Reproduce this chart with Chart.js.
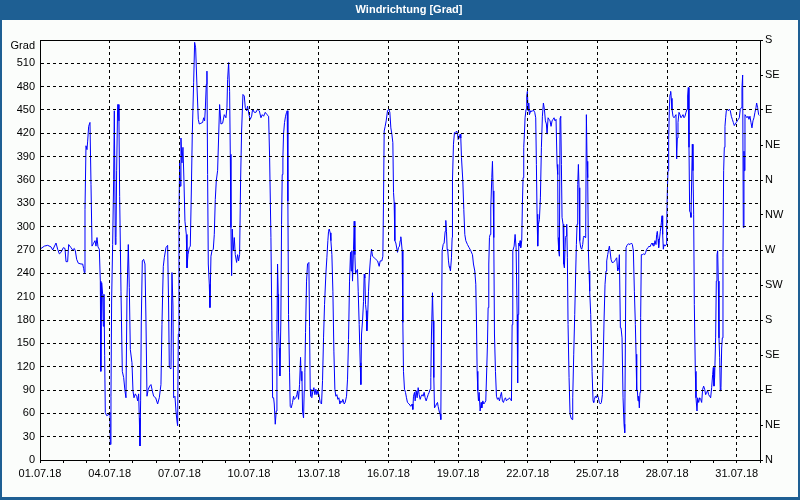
<!DOCTYPE html>
<html>
<head>
<meta charset="utf-8">
<script src="https://cdn.jsdelivr.net/npm/chart.js@4.4.1/dist/chart.umd.min.js"></script>
<style>
html,body{margin:0;padding:0;background:#fbfdfb}
#box{position:relative;width:800px;height:500px}
</style>
</head>
<body>
<div id="box"><canvas id="graficoWind" width="800" height="500"></canvas></div>
<script>

// Titel und Achsen
const titel="Windrichtung [Grad]"
const einheit="Grad"
const monat=".07.18"
const richtungen=["N","NE","E","SE","S","SW","W","NW","N","NE","E","SE","S"]

// Zeit in Tagen ab 01.07.18 00:00
const tage=[
0.0,0.187,0.33,0.474,0.546,0.689,0.76,0.833,0.904,1.005,1.076,1.12,1.19,1.234,1.335,1.406,1.478,1.521,1.579,1.65,
1.765,1.837,1.88,1.909,1.937,1.98,2.023,2.052,2.095,2.152,2.196,2.239,2.296,2.368,2.411,2.454,2.497,2.554,2.597,2.612,
2.626,2.655,2.698,2.726,2.755,2.784,2.812,2.87,2.942,2.985,3.013,3.028,3.056,3.085,3.128,3.171,3.2,3.243,3.272,3.3,
3.343,3.372,3.4,3.429,3.487,3.544,3.602,3.659,3.702,3.745,3.802,3.845,3.889,3.96,4.003,4.046,4.104,4.161,4.204,4.247,
4.276,4.305,4.333,4.362,4.405,4.462,4.52,4.563,4.606,4.663,4.721,4.778,4.835,4.893,4.979,
5.065,5.137,5.208,5.252,5.28,5.309,5.352,5.424,5.495,5.538,5.567,5.639,5.682,5.725,5.754,5.811,5.854,5.897,5.926,5.955,
5.983,6.012,6.041,6.069,6.112,6.155,6.198,6.241,6.299,6.328,6.371,6.428,6.471,6.514,6.557,6.615,6.658,6.701,6.758,6.815,
6.858,6.93,7.002,7.045,7.088,7.117,7.16,7.188,7.217,7.246,7.289,7.317,7.361,7.404,7.461,7.504,7.547,7.59,7.647,7.69,
7.733,7.791,7.863,7.934,8.006,8.049,8.078,8.121,8.164,8.193,8.221,8.25,8.279,8.322,8.365,8.408,8.465,8.508,8.551,8.594,
8.637,8.68,8.738,8.795,8.838,8.896,8.939,8.996,9.053,9.111,9.154,9.226,9.297,9.369,9.441,9.513,9.57,9.627,9.699,9.771,
9.843,9.886,9.943,9.986,10.015,10.058,10.086,10.129,10.172,10.201,
10.228,10.257,10.271,10.3,10.328,10.371,10.4,10.429,10.458,10.486,10.529,10.572,10.615,10.644,10.673,10.701,10.744,10.773,10.816,10.874,
10.917,10.945,11.017,11.06,11.089,11.132,11.175,11.218,11.247,11.275,11.304,11.347,11.376,11.404,11.433,11.476,11.519,11.577,11.605,11.634,
11.663,11.706,11.749,11.792,11.835,11.878,11.921,11.964,12.021,12.064,12.122,12.165,12.208,12.251,12.308,12.351,12.394,12.423,12.452,12.495,
12.524,12.567,12.61,12.653,12.696,12.739,12.782,12.825,12.868,12.911,12.954,12.997,13.04,13.097,13.14,13.198,13.241,13.284,13.327,13.37,
13.399,13.427,13.456,13.499,13.528,13.557,13.585,13.628,13.671,13.7,13.743,13.786,13.815,13.844,13.887,13.93,13.958,13.987,14.016,14.044,
14.073,14.102,14.145,14.188,14.231,14.274,14.317,14.389,14.46,14.532,14.604,14.647,14.719,14.762,14.79,14.819,14.862,14.905,14.962,15.02,
15.063,15.106,15.149,15.192,15.221,15.249,15.278,15.321,
15.392,15.435,15.478,15.507,15.535,15.564,15.593,15.622,15.65,15.693,15.736,15.779,15.822,15.894,15.966,16.023,16.052,16.081,16.124,16.152,
16.195,16.238,16.282,16.325,16.368,16.411,16.454,16.497,16.54,16.583,16.626,16.669,16.712,16.755,16.798,16.827,16.855,16.898,16.927,16.956,
16.985,17.028,17.071,17.114,17.142,17.185,17.228,17.257,17.286,17.314,17.358,17.401,17.444,17.472,17.501,17.53,17.558,17.587,17.616,17.644,
17.673,17.716,17.745,17.759,17.802,17.845,17.888,17.931,17.974,18.003,18.046,18.089,18.118,18.147,18.204,18.247,18.29,18.333,18.405,18.477,
18.548,18.62,18.663,18.72,18.763,18.792,18.821,18.85,18.878,18.907,18.95,18.993,19.022,19.065,19.108,19.151,19.194,19.237,19.266,19.294,
19.323,19.352,19.38,19.409,19.452,19.481,19.51,19.538,19.567,19.61,19.653,19.696,19.739,19.782,19.825,19.868,19.911,19.954,19.997,20.04,
20.083,20.127,20.17,20.213,20.256,20.299,20.327,20.356,20.414,20.456,20.499,20.543,20.565,
20.584,20.612,20.641,20.67,20.698,20.742,20.77,20.799,20.828,20.856,20.885,20.928,20.957,20.985,21.014,21.043,21.071,21.129,21.186,21.244,
21.301,21.344,21.373,21.401,21.43,21.459,21.502,21.545,21.588,21.631,21.674,21.717,21.76,21.803,21.832,21.875,21.918,21.961,22.004,22.047,
22.09,22.133,22.176,22.219,22.262,22.291,22.305,22.334,22.363,22.391,22.42,22.449,22.477,22.521,22.549,22.578,22.621,22.65,22.678,22.707,
22.736,22.779,22.822,22.865,22.908,22.937,22.98,23.023,23.066,23.094,23.123,23.152,23.181,23.209,23.238,23.281,23.324,23.367,23.396,23.424,
23.467,23.496,23.525,23.554,23.582,23.611,23.64,23.668,23.711,23.74,23.769,23.812,23.841,23.869,23.912,23.955,23.998,24.041,24.084,24.127,
24.171,24.214,24.242,24.285,24.328,24.371,24.4,24.443,24.472,24.515,24.543,24.586,24.629,24.687,24.744,24.787,24.83,24.873,24.916,24.945,
24.988,25.017,25.06,25.103,25.146,25.175,25.203,25.232,25.275,25.333,25.404,25.462,25.505,25.548,25.591,25.634,25.663,25.691,
25.719,25.748,25.776,25.805,25.834,25.862,25.891,25.934,25.977,26.035,26.078,26.121,26.178,26.221,26.264,26.307,26.35,26.393,26.436,26.479,
26.522,26.551,26.58,26.609,26.637,26.666,26.709,26.752,26.781,26.809,26.838,26.867,26.91,26.953,26.982,27.01,27.039,27.068,27.096,27.125,
27.154,27.182,27.211,27.254,27.297,27.34,27.383,27.412,27.441,27.469,27.512,27.555,27.598,27.641,27.685,27.728,27.771,27.814,27.857,27.885,
27.914,27.943,27.971,28.0,28.029,28.058,28.086,28.115,28.144,28.172,28.215,28.244,28.287,28.316,28.359,28.402,28.445,28.488,28.531,28.574,
28.617,28.66,28.703,28.746,28.789,28.832,28.875,28.918,28.961,28.99,29.019,29.047,29.09,29.119,29.148,29.177,29.205,29.234,29.263,29.291,
29.32,29.349,29.378,29.406,29.435,29.464,29.492,29.521,29.55,29.593,29.636,29.679,29.722,29.765,29.808,29.851,29.894,29.937,29.98,30.023,
30.066,30.109,30.152,30.195,30.224,30.253,30.281,30.31,30.324,30.353,30.396,30.439,30.482,30.525,30.568,30.611,30.654,30.697,30.74,30.783,
30.826,30.855,30.898,30.941,30.97
]

// Windrichtung in Grad
const grad=[
271,275,276,274,270,279,271,265,267,273,272,255,255,277,273,270,272,269,258,253,
252,252,246,241,322,404,399,410,429,434,354,275,278,282,275,286,274,271,230,187,
114,228,213,172,213,134,61,57,58,61,59,20,82,207,277,361,449,277,286,372,
457,457,436,339,217,114,106,89,80,209,277,222,142,125,89,80,85,82,76,85,
54,18,76,179,256,258,252,179,82,91,95,97,89,82,80,
72,80,97,174,213,249,260,273,276,198,119,117,241,198,80,82,63,50,44,162,
316,382,352,414,382,402,359,307,290,247,264,273,275,342,419,485,537,530,481,438,
432,433,434,440,436,451,483,500,367,252,226,196,262,269,271,290,335,359,372,414,
457,432,433,444,440,453,489,511,474,393,299,237,297,269,286,264,254,264,256,264,
359,423,470,468,453,449,455,444,438,442,451,447,447,451,449,440,444,442,447,444,
442,389,286,166,80,80,72,46,63,166,
252,213,166,144,108,179,303,367,389,419,434,442,447,449,333,187,112,69,67,74,
82,78,80,84,89,78,97,132,102,114,63,54,89,112,164,230,252,254,172,91,
82,80,89,93,84,91,84,89,82,74,72,102,157,200,239,260,282,294,297,292,
282,264,217,140,91,82,84,78,80,72,76,74,78,72,74,82,104,155,230,267,
243,269,230,271,307,264,239,243,245,217,174,125,97,162,179,204,239,234,200,192,
166,179,217,243,260,271,262,260,258,256,249,256,256,262,333,423,429,436,449,451,
447,427,419,408,344,331,282,279,
267,273,275,282,287,279,269,177,114,91,87,80,74,72,69,72,65,82,87,76,
89,80,93,84,78,82,84,82,87,80,76,80,84,87,91,106,162,215,179,106,
67,69,72,74,69,63,59,52,162,269,277,279,294,308,294,271,269,256,249,247,
243,260,286,359,406,421,419,423,421,412,414,419,414,389,359,322,290,282,277,273,
269,264,252,243,226,179,114,89,76,87,63,74,67,76,72,74,76,119,149,196,
252,286,290,324,363,384,346,286,162,114,82,78,80,76,82,87,76,74,78,80,
76,78,78,80,78,76,174,269,275,290,273,187,99,
187,279,275,282,273,282,329,363,402,419,440,451,468,474,449,459,444,449,448,450,
447,440,380,316,275,303,309,337,402,442,459,451,436,432,419,440,438,436,429,436,
438,440,436,438,380,367,286,269,262,440,442,380,312,303,252,247,286,288,303,260,
174,106,59,54,52,80,136,187,243,277,303,354,380,350,282,273,271,277,286,288,
286,292,444,384,363,269,243,217,187,153,114,76,74,78,82,80,84,80,74,72,
74,84,119,179,226,243,256,264,269,275,269,258,254,254,256,258,260,243,247,264,
170,170,157,80,46,35,149,273,276,278,277,279,277,269,217,174,136,89,
89,76,82,67,87,183,264,264,265,264,267,271,273,275,274,277,279,276,275,282,
277,290,294,284,273,282,294,305,314,290,271,277,275,277,299,346,372,412,451,470,
474,465,451,442,440,442,444,387,414,434,447,444,440,442,444,440,442,447,451,468,
479,402,320,318,312,359,406,372,316,200,114,80,63,80,74,80,78,74,91,95,
91,84,87,89,84,82,80,93,110,119,95,106,157,230,264,269,230,157,132,89,
93,144,157,260,372,402,429,440,449,451,449,451,449,442,438,434,430,432,434,436,
438,440,451,453,479,495,299,397,372,444,442,440,442,438,442,434,427,436,440,447,
453,459,453,444,443
]

const blau="#1e5f93"
const schrift="'Liberation Sans', Arial, sans-serif"

Chart.defaults.font.family=schrift
Chart.defaults.font.size=11
Chart.defaults.color="#000"
Chart.defaults.animation=false

function datum(tag){
let d=tag+1
return (d<10?"0":"")+d+monat
}

const rahmen={
id:"rahmen",
beforeDraw(chart){
const c=chart.ctx
c.save()
c.fillStyle="#fbfdfb"
c.fillRect(0,0,800,500)
c.fillStyle=blau
c.fillRect(0,0,800,20)
c.fillRect(0,0,2,500)
c.fillRect(798,0,2,500)
c.fillRect(0,497,800,3)
c.fillStyle="#fff"
c.font="bold 11px "+schrift
c.textAlign="center"
c.textBaseline="middle"
c.fillText(titel,409,10)
c.restore()
},
afterDraw(chart){
const a=chart.chartArea
const c=chart.ctx
c.save()
c.strokeStyle="#000"
c.lineWidth=1
c.beginPath()
c.moveTo(a.left,Math.round(a.top)+0.5)
c.lineTo(a.right,Math.round(a.top)+0.5)
c.stroke()
c.fillStyle="#000"
c.font="11px "+schrift
c.textAlign="right"
c.textBaseline="middle"
c.fillText(einheit,a.left-5,a.top+6)
c.restore()
}
}

new Chart(document.getElementById("graficoWind"),{

type:"line",

data:{
datasets:[{
data:tage.map((t,i)=>({x:t,y:grad[i]})),
borderColor:"#0000ff",
borderWidth:1,
pointRadius:0,
tension:0,
fill:false
}]
},

options:{
responsive:false,
devicePixelRatio:1,
layout:{padding:{top:40,left:0,right:0,bottom:0}},
plugins:{legend:{display:false},tooltip:{enabled:false}},
scales:{
x:{
type:"linear",
min:0,max:31,
afterFit:s=>{s.height=40},
ticks:{stepSize:1,autoSkip:false,maxRotation:0,padding:4,z:1,
callback:v=>(v%3===0&&v<31)?datum(v):""},
grid:{z:1,color:c=>(c.tick.value%3===0&&c.tick.value>0&&c.tick.value<31)?"#000":"rgba(0,0,0,0)",
tickColor:"#000",tickLength:3},
border:{z:1,color:"#000",dash:[3,3]}
},
y:{
min:0,max:540,
afterFit:s=>{s.width=40},
ticks:{stepSize:30,padding:5,z:1,callback:v=>v<540?v:""},
grid:{z:1,drawTicks:false,color:c=>(c.tick.value>0&&c.tick.value<540)?"#000":"rgba(0,0,0,0)"},
border:{z:1,color:"#000",dash:[3,3]}
},
y2:{
position:"right",
min:0,max:540,
afterFit:s=>{s.width=40},
ticks:{stepSize:45,padding:2,z:1,callback:v=>richtungen[Math.round(v/45)]},
grid:{z:1,drawOnChartArea:false,tickColor:"#000",tickLength:3},
border:{z:1,color:"#000"}
}
}
},

plugins:[rahmen]

})

</script>
</body>
</html>
